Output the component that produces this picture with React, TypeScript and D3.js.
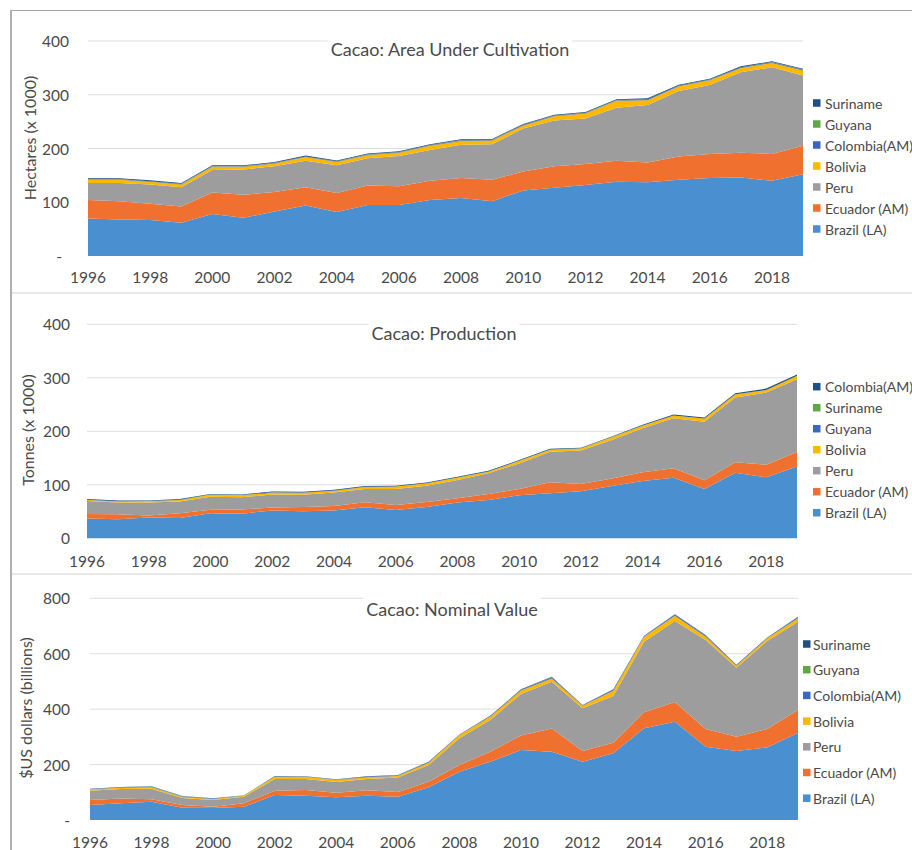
import React, { useEffect, useRef } from "react";
import * as d3 from "d3";

const YEARS = [1996, 1997, 1998, 1999, 2000, 2001, 2002, 2003, 2004, 2005, 2006, 2007, 2008, 2009, 2010, 2011, 2012, 2013, 2014, 2015, 2016, 2017, 2018, 2019];
const X_TICKS = [1996, 1998, 2000, 2002, 2004, 2006, 2008, 2010, 2012, 2014, 2016, 2018];

// Panel 1: Area under cultivation (hectares x 1000)
const AREA_BRAZIL = [70, 68, 67, 62, 78, 71, 83, 94, 82, 95, 95, 104, 108, 102, 122, 127, 132, 138, 137, 142, 145, 146, 140, 152];
const AREA_ECUADOR = [34, 34, 30, 30, 40, 43, 36, 34, 35, 36, 35, 36, 37, 40, 35, 40, 39, 39, 37, 43, 45, 46, 50, 53];
const AREA_PERU = [32, 34, 36, 36, 42, 47, 48, 49, 52, 51, 56, 57, 62, 66, 80, 85, 85, 99, 107, 122, 128, 150, 161, 131];
const AREA_BOLIVIA = [6, 6, 5, 5, 6, 5, 5, 7, 6, 6, 6, 8, 7, 7, 6, 8, 9, 13, 9, 9, 9, 8, 8, 9];
const AREA_COLOMBIA = [1, 1, 1, 1, 1, 1, 1, 1, 1, 1, 1, 1, 1.5, 1, 1, 1, 1, 1, 1.5, 1, 1, 1, 1.5, 1.5];
const AREA_GUYANA = [0.3, 0.3, 0.3, 0.3, 0.3, 0.3, 0.3, 0.3, 0.3, 0.3, 0.3, 0.3, 0.3, 0.3, 0.3, 0.3, 0.3, 0.3, 0.3, 0.3, 0.3, 0.3, 0.3, 0.3];
const AREA_SURINAME = [1.5, 1.5, 1.5, 1.5, 1.5, 1.5, 1.5, 1.5, 1.5, 1.5, 1.5, 1.5, 1.5, 1.5, 1.5, 1.5, 1.5, 1.5, 1.5, 1.5, 1.5, 1.5, 1.5, 1.5];

// Panel 2: Production (tonnes x 1000)
const PROD_BRAZIL = [37, 35.5, 39, 38, 47, 46, 52, 50.5, 52, 58, 53, 58.5, 66.7, 71.7, 80.4, 84, 88, 97.8, 107, 113.4, 92.2, 122.7, 114, 134];
const PROD_ECUADOR = [8.5, 9.5, 3.5, 8.7, 6.3, 7.6, 5.6, 8, 8.5, 9.3, 9.3, 9.4, 8.3, 11.2, 11.8, 20.7, 13.7, 14.2, 16.4, 17.4, 16.2, 19.3, 23.7, 27.4];
const PROD_PERU = [24.3, 21.7, 24.3, 22.3, 24.3, 23, 24.3, 23, 25, 24.7, 29.7, 30.4, 34, 38.6, 47.8, 57.3, 62.3, 71.8, 82.2, 93.5, 109.6, 121, 134.6, 135.8];
const PROD_BOLIVIA = [2, 2.3, 2.3, 2.7, 3.7, 3.8, 3.8, 3.8, 3.6, 4, 4.6, 4.4, 4.2, 3.1, 4.5, 3.7, 3.7, 5, 5, 5, 5.7, 6, 4.7, 6.2];
const PROD_GUYANA = [0.2, 0.2, 0.2, 0.2, 0.2, 0.2, 0.2, 0.2, 0.2, 0.2, 0.2, 0.2, 0.2, 0.2, 0.2, 0.2, 0.2, 0.2, 0.2, 0.2, 0.2, 0.2, 0.2, 0.2];
const PROD_SURINAME = [0.2, 0.2, 0.2, 0.2, 0.2, 0.2, 0.2, 0.2, 0.2, 0.2, 0.2, 0.2, 0.2, 0.2, 0.2, 0.2, 0.2, 0.2, 0.2, 0.2, 0.2, 0.2, 0.2, 0.2];
const PROD_COLOMBIA = [1.2, 1.2, 1.2, 1.2, 1.2, 1.2, 1.2, 1.2, 1.2, 1.2, 1.2, 1.2, 1.5, 1.2, 1.5, 1.2, 1.2, 1.2, 1.2, 1.5, 1.5, 1.5, 2.5, 2.2];

// Panel 3: Nominal value ($US billions)
const VAL_BRAZIL = [54, 60, 66, 44.5, 43.3, 48, 90, 87.8, 81.8, 87.8, 84, 118, 174.4, 210.5, 252.6, 246.6, 210.5, 240.6, 330.8, 354.9, 264.7, 249, 262, 315];
const VAL_ECUADOR = [18, 18, 8.6, 9.5, 4.7, 12, 16, 20.2, 16.8, 19.2, 17, 20, 24, 36, 52, 84, 38.5, 38.4, 57.8, 71, 63.7, 51.8, 66.4, 82];
const VAL_PERU = [34, 34, 38.4, 25.4, 24, 24, 42, 40, 38.4, 41, 52, 60.5, 96.2, 114.4, 150.3, 168.2, 154, 168.5, 255, 292.3, 321.2, 249, 317.6, 318.8];
const VAL_BOLIVIA = [4.7, 4.7, 5, 3.6, 3.8, 3.8, 8, 8, 7, 6, 6, 8.5, 12, 12, 12, 12, 9.6, 19.3, 18, 19.2, 12, 7.2, 9.6, 12];
const VAL_COLOMBIA = [1, 1.5, 2, 2, 1.5, 1, 1.5, 1, 1.5, 2, 2, 2, 1.5, 2, 3, 3.5, 1.5, 3, 2, 3, 3.5, 2, 2, 3.5];
const VAL_GUYANA = [0.3, 0.3, 0.5, 0.5, 0.3, 0.2, 0.3, 0.3, 0.3, 0.5, 0.5, 0.5, 0.3, 0.5, 0.5, 0.5, 0.3, 0.5, 0.3, 0.5, 0.5, 0.5, 0.4, 0.5];
const VAL_SURINAME = [0.5, 0.5, 1, 1, 0.5, 0.3, 1, 0.5, 1, 1, 1, 1, 0.5, 1, 1.3, 2, 0.6, 1.3, 1, 1.4, 2, 1.1, 1, 2];

const C_BRAZIL = "#4a8fd0";
const C_ECUADOR = "#f07030";
const C_PERU = "#9d9d9d";
const C_BOLIVIA = "#ffb800";
const C_MIDBLUE = "#3a68c0";
const C_GREEN = "#62a744";
const C_NAVY = "#1f4f86";

const FONT = "Lato, 'Open Sans', sans-serif";
const TEXT = "#4a4a4a";

type Series = { name: string; color: string; values: number[] };
type Panel = {
  title: string;
  yTitle: string;
  series: Series[]; // bottom -> top stacking order
  yMax: number;
  yTicks: number[];
  zeroLabel: string;
  zeroX: number;
  x0: number; x1: number; yTop: number; yBottom: number;
  tickRight: number;
  xTickBase: number;
  titleCx: number; titleCy: number;
  yTitleX: number; yTitleCy: number;
  legSqX: number; legTextX: number; legY0: number; legStep: number;
};

const PANELS: Panel[] = [
  {
    title: "Cacao: Area Under Cultivation",
    yTitle: "Hectares (x 1000)",
    series: [
      { name: "Brazil (LA)", color: C_BRAZIL, values: AREA_BRAZIL },
      { name: "Ecuador (AM)", color: C_ECUADOR, values: AREA_ECUADOR },
      { name: "Peru", color: C_PERU, values: AREA_PERU },
      { name: "Bolivia", color: C_BOLIVIA, values: AREA_BOLIVIA },
      { name: "Colombia(AM)", color: C_MIDBLUE, values: AREA_COLOMBIA },
      { name: "Guyana", color: C_GREEN, values: AREA_GUYANA },
      { name: "Suriname", color: C_NAVY, values: AREA_SURINAME },
    ],
    yMax: 400, yTicks: [100, 200, 300, 400], zeroLabel: "-", zeroX: 62,
    x0: 88, x1: 803, yTop: 41, yBottom: 256, tickRight: 69, xTickBase: 283,
    titleCx: 450, titleCy: 49, yTitleX: 29, yTitleCy: 138,
    legSqX: 813, legTextX: 825, legY0: 103, legStep: 21,
  },
  {
    title: "Cacao: Production",
    yTitle: "Tonnes (x 1000)",
    series: [
      { name: "Brazil (LA)", color: C_BRAZIL, values: PROD_BRAZIL },
      { name: "Ecuador (AM)", color: C_ECUADOR, values: PROD_ECUADOR },
      { name: "Peru", color: C_PERU, values: PROD_PERU },
      { name: "Bolivia", color: C_BOLIVIA, values: PROD_BOLIVIA },
      { name: "Guyana", color: C_MIDBLUE, values: PROD_GUYANA },
      { name: "Suriname", color: C_GREEN, values: PROD_SURINAME },
      { name: "Colombia(AM)", color: C_NAVY, values: PROD_COLOMBIA },
    ],
    yMax: 400, yTicks: [100, 200, 300, 400], zeroLabel: "0", zeroX: 70,
    x0: 87, x1: 797, yTop: 324.3, yBottom: 538.3, tickRight: 70, xTickBase: 566.5,
    titleCx: 444, titleCy: 333, yTitleX: 27, yTitleCy: 430,
    legSqX: 813, legTextX: 825, legY0: 386.7, legStep: 21,
  },
  {
    title: "Cacao: Nominal Value",
    yTitle: "$US dollars (billions)",
    series: [
      { name: "Brazil (LA)", color: C_BRAZIL, values: VAL_BRAZIL },
      { name: "Ecuador (AM)", color: C_ECUADOR, values: VAL_ECUADOR },
      { name: "Peru", color: C_PERU, values: VAL_PERU },
      { name: "Bolivia", color: C_BOLIVIA, values: VAL_BOLIVIA },
      { name: "Colombia(AM)", color: C_MIDBLUE, values: VAL_COLOMBIA },
      { name: "Guyana", color: C_GREEN, values: VAL_GUYANA },
      { name: "Suriname", color: C_NAVY, values: VAL_SURINAME },
    ],
    yMax: 800, yTicks: [200, 400, 600, 800], zeroLabel: "-", zeroX: 70,
    x0: 90, x1: 798, yTop: 598.3, yBottom: 820, tickRight: 70, xTickBase: 848.3,
    titleCx: 452, titleCy: 609, yTitleX: 25, yTitleCy: 708,
    legSqX: 803, legTextX: 813, legY0: 644, legStep: 25.7,
  },
];

function drawPanel(svg: d3.Selection<SVGSVGElement, unknown, null, undefined>, p: Panel) {
  const g = svg.append("g");
  const x = d3.scaleLinear().domain([YEARS[0], YEARS[YEARS.length - 1]]).range([p.x0, p.x1]);
  const y = d3.scaleLinear().domain([0, p.yMax]).range([p.yBottom, p.yTop]);

  // gridlines
  g.selectAll("line.grid")
    .data(p.yTicks)
    .join("line")
    .attr("x1", p.x0).attr("x2", p.x1)
    .attr("y1", (d) => y(d)).attr("y2", (d) => y(d))
    .attr("stroke", "#dedede").attr("stroke-width", 1);

  // title with white box
  const tg = g.append("g");
  const rect = tg.append("rect").attr("fill", "#fff");
  const tt = tg.append("text")
    .attr("x", p.titleCx).attr("y", p.titleCy)
    .attr("text-anchor", "middle").attr("dominant-baseline", "central")
    .attr("font-family", FONT).attr("font-size", 18).attr("fill", TEXT)
    .text(p.title);
  const bb = (tt.node() as SVGTextElement).getBBox();
  rect.attr("x", bb.x - 3).attr("y", bb.y - 2).attr("width", bb.width + 6).attr("height", bb.height + 4);

  // stacked areas
  const table = YEARS.map((yr, i) => {
    const row: Record<string, number> = { year: yr };
    p.series.forEach((s) => (row[s.name] = s.values[i]));
    return row;
  });
  const stack = d3.stack<Record<string, number>>().keys(p.series.map((s) => s.name));
  const layers = stack(table);
  const area = d3.area<d3.SeriesPoint<Record<string, number>>>()
    .x((d) => x(d.data.year))
    .y0((d) => y(d[0]))
    .y1((d) => y(d[1]));
  g.selectAll("path.layer")
    .data(layers)
    .join("path")
    .attr("d", (d) => area(d) as string)
    .attr("fill", (d, i) => p.series[i].color);

  // y tick labels
  g.selectAll("text.ytick")
    .data(p.yTicks)
    .join("text")
    .attr("x", p.tickRight).attr("y", (d) => y(d))
    .attr("text-anchor", "end").attr("dominant-baseline", "central")
    .attr("font-family", FONT).attr("font-size", 15.5).attr("fill", TEXT)
    .text((d) => String(d));
  g.append("text")
    .attr("x", p.zeroX).attr("y", y(0))
    .attr("text-anchor", "end").attr("dominant-baseline", "central")
    .attr("font-family", FONT).attr("font-size", 15.5).attr("fill", TEXT)
    .text(p.zeroLabel);

  // x tick labels
  g.selectAll("text.xtick")
    .data(X_TICKS)
    .join("text")
    .attr("x", (d) => x(d)).attr("y", p.xTickBase)
    .attr("text-anchor", "middle")
    .attr("font-family", FONT).attr("font-size", 15.5).attr("fill", TEXT)
    .text((d) => String(d));

  // y axis title
  g.append("text")
    .attr("transform", `translate(${p.yTitleX},${p.yTitleCy}) rotate(-90)`)
    .attr("text-anchor", "middle").attr("dominant-baseline", "central")
    .attr("font-family", FONT).attr("font-size", 16).attr("fill", TEXT)
    .text(p.yTitle);

  // legend (reverse of stacking order)
  const leg = p.series.slice().reverse();
  const lg = g.selectAll("g.leg").data(leg).join("g")
    .attr("transform", (d, i) => `translate(0,${p.legY0 + i * p.legStep})`);
  lg.append("rect")
    .attr("x", p.legSqX).attr("y", -3.75).attr("width", 7.5).attr("height", 7.5)
    .attr("fill", (d) => d.color);
  lg.append("text")
    .attr("x", p.legTextX).attr("y", 0)
    .attr("dominant-baseline", "central")
    .attr("font-family", FONT).attr("font-size", 14).attr("fill", TEXT)
    .text((d) => d.name);
}

export default function App() {
  const ref = useRef<SVGSVGElement>(null);
  useEffect(() => {
    const svg = d3.select(ref.current as SVGSVGElement);
    svg.selectAll("*").remove();
    svg.append("rect").attr("x", 0).attr("y", 0).attr("width", 912).attr("height", 850).attr("fill", "#fff");
    // frame
    svg.append("line").attr("x1", 10).attr("x2", 912).attr("y1", 10.5).attr("y2", 10.5).attr("stroke", "#a6a6a6").attr("stroke-width", 1);
    svg.append("line").attr("x1", 11).attr("x2", 11).attr("y1", 10).attr("y2", 850).attr("stroke", "#b0b0b0").attr("stroke-width", 2);
    svg.append("line").attr("x1", 12).attr("x2", 912).attr("y1", 293).attr("y2", 293).attr("stroke", "#e8e8e8").attr("stroke-width", 2);
    svg.append("line").attr("x1", 12).attr("x2", 912).attr("y1", 574).attr("y2", 574).attr("stroke", "#e8e8e8").attr("stroke-width", 2);
    PANELS.forEach((p) => drawPanel(svg, p));
  }, []);
  return (
    <svg ref={ref} width={912} height={850} style={{ position: "absolute", left: 0, top: 0, display: "block" }} />
  );
}
